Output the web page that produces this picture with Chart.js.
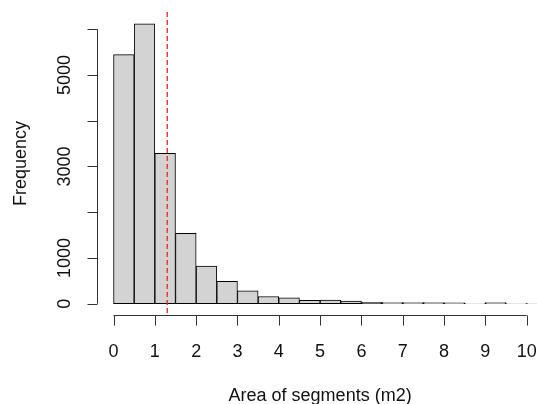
<!DOCTYPE html>
<html>
<head>
<meta charset="utf-8">
<script src="https://cdn.jsdelivr.net/npm/chart.js@4"></script>
<style>
    html, body { margin: 0; padding: 0; background: #fff; overflow: hidden; }
    canvas { display: block; }
</style>
</head>
<body>
<canvas id="histChart" width="537" height="404"></canvas>
<script>
    // histogram bins (width 0.5) and counts
    const binStarts = [0, 0.5, 1, 1.5, 2, 2.5, 3, 3.5, 4, 4.5, 5, 5.5, 6, 6.5, 7, 7.5, 8, 8.5, 9, 9.5, 10];
    const counts = [5445, 6120, 3288, 1539, 824, 490, 284, 158, 131, 76, 80, 58, 30, 26, 24, 22, 20, 4, 26, 5, 4];
    const binWidth = 0.5;
    const meanArea = 1.3;

    const xTicks = [0, 1, 2, 3, 4, 5, 6, 7, 8, 9, 10];
    const yTicks = [0, 1000, 2000, 3000, 4000, 5000, 6000];
    const yTickLabels = ['0', '1000', '', '3000', '', '5000', ''];

    const xTitle = 'Area of segments (m2)';
    const yTitle = 'Frequency';

    const FONT = '18px "Liberation Sans", Arial, sans-serif';

    const rAxes = {
        id: 'rAxes',
        afterDatasetsDraw(chart) {
            const { ctx, chartArea, scales: { x, y } } = chart;
            ctx.save();

            // mean line
            ctx.strokeStyle = '#ff2020';
            ctx.lineWidth = 1.3;
            ctx.setLineDash([5, 3]);
            const mx = x.getPixelForValue(meanArea);
            ctx.beginPath();
            ctx.moveTo(mx, chartArea.top);
            ctx.lineTo(mx, chartArea.bottom);
            ctx.stroke();
            ctx.setLineDash([]);

            // x axis
            ctx.strokeStyle = '#333';
            ctx.lineWidth = 1;
            const ax = chartArea.bottom + 0.5;
            ctx.beginPath();
            ctx.moveTo(x.getPixelForValue(xTicks[0]), ax);
            ctx.lineTo(x.getPixelForValue(xTicks[xTicks.length - 1]), ax);
            xTicks.forEach(t => {
                const px = Math.round(x.getPixelForValue(t)) + 0.5;
                ctx.moveTo(px, ax);
                ctx.lineTo(px, ax + 10);
            });
            ctx.stroke();

            ctx.fillStyle = '#111';
            ctx.font = FONT;
            ctx.textAlign = 'center';
            ctx.textBaseline = 'alphabetic';
            xTicks.forEach(t => {
                ctx.fillText(String(t), x.getPixelForValue(t), 357);
            });
            ctx.fillText(xTitle, (x.getPixelForValue(0) + x.getPixelForValue(10)) / 2, 401);

            // y axis
            const ay = chartArea.left + 0.5;
            ctx.beginPath();
            ctx.moveTo(ay, y.getPixelForValue(yTicks[0]));
            ctx.lineTo(ay, y.getPixelForValue(yTicks[yTicks.length - 1]));
            yTicks.forEach(t => {
                const py = Math.round(y.getPixelForValue(t)) + 0.5;
                ctx.moveTo(ay, py);
                ctx.lineTo(ay - 10, py);
            });
            ctx.stroke();

            yTicks.forEach((t, i) => {
                if (!yTickLabels[i]) return;
                ctx.save();
                ctx.translate(70, y.getPixelForValue(t));
                ctx.rotate(-Math.PI / 2);
                ctx.fillText(yTickLabels[i], 0, 0);
                ctx.restore();
            });

            ctx.save();
            ctx.translate(26, (chartArea.top + chartArea.bottom) / 2);
            ctx.rotate(-Math.PI / 2);
            ctx.fillText(yTitle, 0, 0);
            ctx.restore();

            ctx.restore();
        }
    };

    const ctx = document.getElementById('histChart').getContext('2d');
    new Chart(ctx, {
        type: 'bar',
        data: {
            datasets: [{
                data: binStarts.map((b, i) => ({ x: b + binWidth / 2, y: counts[i] })),
                backgroundColor: '#d3d3d3',
                borderColor: '#000',
                borderWidth: 1,
                borderSkipped: false,
                barPercentage: 1,
                categoryPercentage: 1
            }]
        },
        options: {
            responsive: false,
            animation: false,
            devicePixelRatio: 1,
            layout: { padding: { left: 97, right: 0, top: 12, bottom: 89 } },
            plugins: { legend: { display: false }, tooltip: { enabled: false } },
            scales: {
                x: { type: 'linear', min: -0.4, max: 10.25, offset: false, display: false },
                y: { type: 'linear', min: -247, max: 6378, display: false }
            }
        },
        plugins: [rAxes]
    });
</script>
</body>
</html>
